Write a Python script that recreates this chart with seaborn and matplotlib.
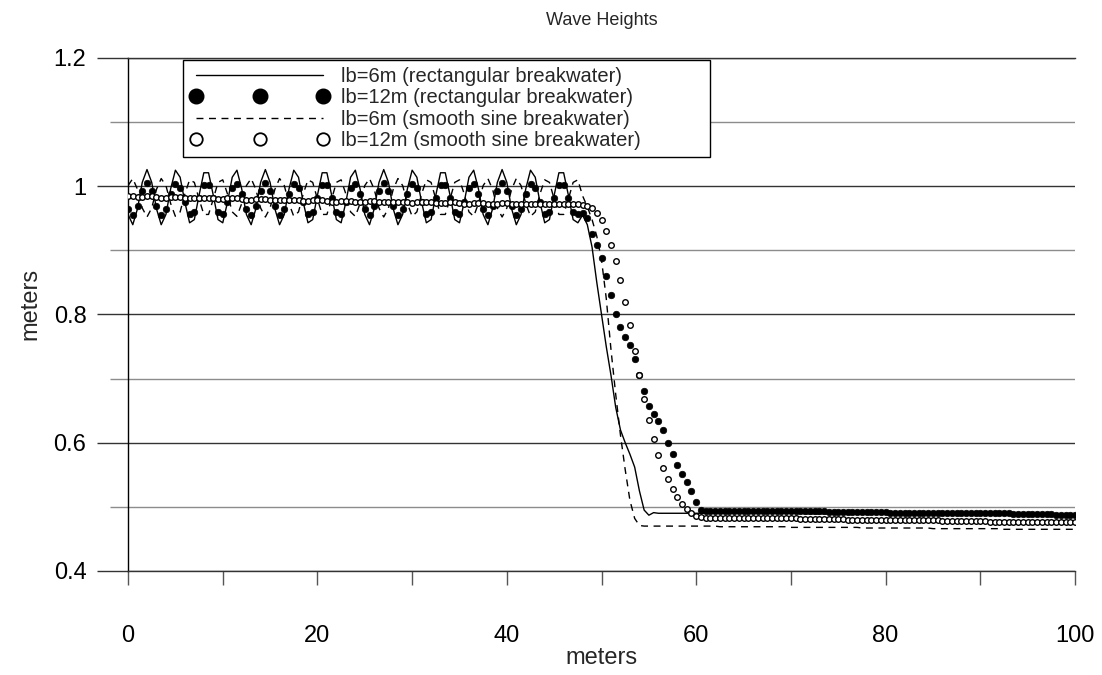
import numpy as np
import pandas as pd
import matplotlib
matplotlib.use('Agg')
import matplotlib.pyplot as plt
import seaborn as sns
from matplotlib.lines import Line2D

# distance along the channel, read every 0.5 m
distance = np.arange(201) * 0.5

# lb=6m (rectangular breakwater)
rect_6m = [
    0.956, 0.940, 0.965, 1.006, 1.026, 1.006, 0.965, 0.940, 0.956, 0.996, 1.025, 1.014, 0.975,
    0.943, 0.948, 0.986, 1.021, 1.021, 0.986, 0.948, 0.943, 0.975, 1.014, 1.025, 0.996,
    0.956, 0.940, 0.965, 1.006, 1.026, 1.006, 0.965, 0.940, 0.956, 0.996, 1.025, 1.014, 0.975,
    0.943, 0.948, 0.986, 1.021, 1.021, 0.986, 0.948, 0.943, 0.975, 1.014, 1.025, 0.996,
    0.956, 0.940, 0.965, 1.006, 1.026, 1.006, 0.965, 0.940, 0.956, 0.996, 1.025, 1.014, 0.975,
    0.943, 0.948, 0.986, 1.021, 1.021, 0.986, 0.948, 0.943, 0.975, 1.014, 1.025, 0.996,
    0.956, 0.940, 0.965, 1.006, 1.026, 1.006, 0.965, 0.940, 0.956, 0.996, 1.025, 1.014, 0.975,
    0.943, 0.948, 0.986, 1.021, 1.021, 0.986, 0.948, 0.943,
    0.955, 0.940, 0.905, 0.850, 0.800, 0.750, 0.705, 0.655, 0.620, 0.600, 0.582, 0.562, 0.525,
    0.495, 0.487, 0.491, 0.490,
    0.490, 0.490, 0.490, 0.490, 0.490, 0.490, 0.490, 0.490, 0.490, 0.490,
    0.490, 0.490, 0.490, 0.490, 0.490, 0.490, 0.490, 0.490, 0.490, 0.490,
    0.490, 0.490, 0.490, 0.490, 0.490, 0.490, 0.490, 0.490, 0.490, 0.490,
    0.489, 0.489, 0.489, 0.489, 0.489, 0.489, 0.489, 0.489, 0.489, 0.489,
    0.489, 0.489, 0.489, 0.489, 0.489, 0.489, 0.489, 0.489, 0.489, 0.489,
    0.489, 0.489, 0.489, 0.489, 0.489, 0.489, 0.489, 0.489, 0.489, 0.489,
    0.488, 0.488, 0.488, 0.488, 0.488, 0.488, 0.488, 0.488, 0.488, 0.488,
    0.488, 0.488, 0.488, 0.488, 0.488, 0.488, 0.488, 0.488, 0.488, 0.488,
    0.488, 0.488, 0.488, 0.488, 0.488, 0.488, 0.488, 0.488,
]

# lb=12m (rectangular breakwater)
rect_12m = [
    0.964, 0.955, 0.969, 0.993, 1.005, 0.993, 0.969, 0.955, 0.964, 0.988, 1.004, 0.998, 0.975,
    0.957, 0.960, 0.982, 1.002, 1.002, 0.982, 0.960, 0.957, 0.975, 0.998, 1.004, 0.988,
    0.964, 0.955, 0.969, 0.993, 1.005, 0.993, 0.969, 0.955, 0.964, 0.988, 1.004, 0.998, 0.975,
    0.957, 0.960, 0.982, 1.002, 1.002, 0.982, 0.960, 0.957, 0.975, 0.998, 1.004, 0.988,
    0.964, 0.955, 0.969, 0.993, 1.005, 0.993, 0.969, 0.955, 0.964, 0.988, 1.004, 0.998, 0.975,
    0.957, 0.960, 0.982, 1.002, 1.002, 0.982, 0.960, 0.957, 0.975, 0.998, 1.004, 0.988,
    0.964, 0.955, 0.969, 0.993, 1.005, 0.993, 0.969, 0.955, 0.964, 0.988, 1.004, 0.998, 0.975,
    0.957, 0.960, 0.982, 1.002, 1.002, 0.982, 0.960, 0.957,
    0.958, 0.951, 0.925, 0.908, 0.888, 0.860, 0.830, 0.800, 0.780, 0.765, 0.752, 0.731, 0.705,
    0.680, 0.657, 0.645, 0.634, 0.620, 0.600, 0.582, 0.565, 0.551, 0.539, 0.524, 0.507, 0.495,
    0.494, 0.494, 0.494, 0.494, 0.494, 0.494, 0.494, 0.494, 0.494, 0.494, 0.494, 0.494, 0.494,
    0.493, 0.493, 0.493, 0.493, 0.493, 0.493, 0.493, 0.493, 0.493, 0.493, 0.493, 0.493, 0.493,
    0.492, 0.492, 0.492, 0.492, 0.492, 0.492, 0.492, 0.492, 0.492, 0.492, 0.492, 0.492, 0.492,
    0.491, 0.491, 0.491, 0.491, 0.491, 0.491, 0.491, 0.491, 0.491, 0.491, 0.491, 0.491, 0.491,
    0.490, 0.490, 0.490, 0.490, 0.490, 0.490, 0.490, 0.490, 0.490, 0.490, 0.490, 0.490, 0.490,
    0.489, 0.489, 0.489, 0.489, 0.489, 0.489, 0.489, 0.489, 0.489,
    0.488, 0.488, 0.488, 0.488, 0.488,
]

# lb=6m (smooth sine breakwater)
sine_6m = [
    1.001, 1.012, 0.995, 0.966, 0.952, 0.966, 0.995, 1.012, 1.001, 0.973, 0.953, 0.960, 0.988,
    1.010, 1.006, 0.980, 0.956, 0.956, 0.980, 1.006, 1.010, 0.988, 0.960, 0.953, 0.973,
    1.001, 1.012, 0.995, 0.966, 0.952, 0.966, 0.995, 1.012, 1.001, 0.973, 0.953, 0.960, 0.988,
    1.010, 1.006, 0.980, 0.956, 0.956, 0.980, 1.006, 1.010, 0.988, 0.960, 0.953, 0.973,
    1.001, 1.012, 0.995, 0.966, 0.952, 0.966, 0.995, 1.012, 1.001, 0.973, 0.953, 0.960, 0.988,
    1.010, 1.006, 0.980, 0.956, 0.956, 0.980, 1.006, 1.010, 0.988, 0.960, 0.953, 0.973,
    1.001, 1.012, 0.995, 0.966, 0.952, 0.966, 0.995, 1.012, 1.001, 0.973, 0.953, 0.960, 0.988,
    1.010, 1.006, 0.980, 0.956, 0.956, 0.980, 1.006, 1.010,
    0.985, 0.968, 0.948, 0.922, 0.885, 0.825, 0.745, 0.675, 0.612, 0.558, 0.510, 0.482, 0.471,
    0.470,
    0.470, 0.470, 0.470, 0.470, 0.470, 0.470, 0.470, 0.470, 0.470, 0.470, 0.470, 0.470, 0.470,
    0.470, 0.470,
    0.469, 0.469, 0.469, 0.469, 0.469, 0.469, 0.469, 0.469, 0.469, 0.469, 0.469, 0.469, 0.469,
    0.469, 0.469,
    0.468, 0.468, 0.468, 0.468, 0.468, 0.468, 0.468, 0.468, 0.468, 0.468, 0.468, 0.468, 0.468,
    0.468, 0.468,
    0.467, 0.467, 0.467, 0.467, 0.467, 0.467, 0.467, 0.467, 0.467, 0.467, 0.467, 0.467, 0.467,
    0.467, 0.467,
    0.466, 0.466, 0.466, 0.466, 0.466, 0.466, 0.466, 0.466, 0.466, 0.466, 0.466, 0.466, 0.466,
    0.466, 0.466,
    0.465, 0.465, 0.465, 0.465, 0.465, 0.465, 0.465, 0.465, 0.465, 0.465, 0.465, 0.465, 0.465,
    0.465, 0.465, 0.465,
]

# lb=12m (smooth sine breakwater)
sine_12m = [
    0.984, 0.984, 0.983, 0.983, 0.984, 0.984, 0.983, 0.982, 0.982, 0.983, 0.983, 0.983, 0.982,
    0.981, 0.981, 0.982, 0.982, 0.982, 0.981, 0.980, 0.980, 0.981, 0.981, 0.981, 0.980,
    0.979, 0.979, 0.980, 0.980, 0.980, 0.979, 0.978, 0.978, 0.979, 0.979, 0.979, 0.978, 0.977,
    0.977, 0.978, 0.978, 0.978, 0.977, 0.976, 0.976, 0.977, 0.977, 0.977, 0.976, 0.976,
    0.976, 0.977, 0.977, 0.976, 0.975, 0.975, 0.976, 0.976, 0.976, 0.975, 0.974, 0.975, 0.975,
    0.975, 0.975, 0.974, 0.974, 0.974, 0.975, 0.975, 0.974, 0.973, 0.973, 0.974, 0.974,
    0.974, 0.973, 0.973, 0.973, 0.974, 0.974, 0.973, 0.972, 0.973, 0.973, 0.973, 0.973, 0.972,
    0.972, 0.973, 0.973, 0.973, 0.973, 0.973, 0.972, 0.972,
    0.971, 0.969, 0.966, 0.959, 0.947, 0.930, 0.909, 0.884, 0.853, 0.819, 0.783, 0.743, 0.705,
    0.668, 0.635, 0.606, 0.581, 0.560, 0.543, 0.528, 0.515, 0.504, 0.496, 0.490, 0.486, 0.484,
    0.483, 0.483, 0.483, 0.483, 0.483, 0.483, 0.483, 0.483, 0.483, 0.483,
    0.482, 0.482, 0.482, 0.482, 0.482, 0.482, 0.482, 0.482, 0.482, 0.482,
    0.481, 0.481, 0.481, 0.481, 0.481, 0.481, 0.481, 0.481, 0.481, 0.481,
    0.480, 0.480, 0.480, 0.480, 0.480, 0.480, 0.480, 0.480, 0.480, 0.480,
    0.479, 0.479, 0.479, 0.479, 0.479, 0.479, 0.479, 0.479, 0.479, 0.479,
    0.478, 0.478, 0.478, 0.478, 0.478, 0.478, 0.478, 0.478, 0.478, 0.478,
    0.477, 0.477, 0.477, 0.477, 0.477, 0.477, 0.477, 0.477, 0.477, 0.477,
    0.476, 0.476, 0.476, 0.476, 0.476, 0.476, 0.476, 0.476, 0.476,
]

labels = ['lb=6m (rectangular breakwater)', 'lb=12m (rectangular breakwater)',
          'lb=6m (smooth sine breakwater)', 'lb=12m (smooth sine breakwater)']

x_ticks = [0, 20, 40, 60, 80, 100]
x_tick_labels = ['0', '20', '40', '60', '80', '100']
x_minor = [10, 30, 50, 70, 90]
y_ticks = [0.4, 0.6, 0.8, 1.0, 1.2]
y_tick_labels = ['0.4', '0.6', '0.8', '1', '1.2']
y_minor = [0.5, 0.7, 0.9, 1.1]

df = pd.DataFrame({'distance': distance, 'rect_6m': rect_6m, 'rect_12m': rect_12m,
                   'sine_6m': sine_6m, 'sine_12m': sine_12m})

sns.set_style('white')
plt.rcParams['font.family'] = ['Liberation Sans', 'DejaVu Sans']

fig = plt.figure(figsize=(11.02, 6.75), dpi=100)
ax = fig.add_axes([0.1162, 0.1541, 0.8593, 0.7600])

sns.lineplot(data=df, x='distance', y='rect_6m', ax=ax, color='black', linewidth=1, zorder=2)
sns.scatterplot(data=df, x='distance', y='rect_12m', ax=ax, color='black', s=22,
                edgecolor='black', linewidth=0.5, zorder=3)
sns.lineplot(data=df, x='distance', y='sine_6m', ax=ax, color='black', linewidth=1,
             linestyle=(0, (5, 4)), zorder=2)
sns.scatterplot(data=df, x='distance', y='sine_12m', ax=ax, color='white', s=16,
                edgecolor='black', linewidth=1.0, zorder=4)

ax.set_xlim(0, 100)
ax.set_ylim(0.4, 1.2)
ax.set_xticks(x_ticks)
ax.set_xticklabels(x_tick_labels)
ax.set_xticks(x_minor, minor=True)
ax.set_yticks(y_ticks)
ax.set_yticklabels(y_tick_labels)
ax.set_yticks(y_minor, minor=True)

ax.tick_params(axis='y', which='major', left=True, direction='out', length=22, width=1,
               color='#333333', pad=8, labelsize=17, labelcolor='black')
ax.tick_params(axis='y', which='minor', left=True, direction='out', length=13, width=1,
               color='#8c8c8c')
ax.tick_params(axis='x', which='both', bottom=True, direction='out', length=10, width=1,
               color='#555555')
ax.tick_params(axis='x', which='major', pad=29, labelsize=17, labelcolor='black')

ax.grid(False)
ax.yaxis.grid(True, which='major', color='#333333', linewidth=1)
ax.yaxis.grid(True, which='minor', color='#8c8c8c', linewidth=1)
ax.set_axisbelow(True)

ax.spines['right'].set_visible(False)
ax.spines['left'].set_color('black')
ax.spines['top'].set_color('#333333')
ax.spines['bottom'].set_color('#333333')
for s in ['left', 'top', 'bottom']:
    ax.spines[s].set_linewidth(1)

ax.set_title('Wave Heights', fontsize=13, pad=24)
ax.set_xlabel('meters', fontsize=17, labelpad=0)
ax.set_ylabel('meters', fontsize=17)
ax.yaxis.set_label_coords(-0.091, 0.52)

handles = [
    Line2D([], [], color='black', linewidth=1),
    Line2D([], [], linestyle='none', marker='o', markersize=10.5, markerfacecolor='black',
           markeredgecolor='black'),
    Line2D([], [], color='black', linewidth=1, linestyle=(0, (5, 4))),
    Line2D([], [], linestyle='none', marker='o', markersize=9, markerfacecolor='white',
           markeredgecolor='black', markeredgewidth=1.3),
]
leg = ax.legend(handles, labels, loc='upper left', bbox_to_anchor=(0.0581, 0.5, 0.5565, 0.4961),
                mode='expand', borderaxespad=0, numpoints=3, handlelength=6.9,
                handletextpad=0.6, labelspacing=0.12, borderpad=0.35, fontsize=14.5,
                frameon=True, fancybox=False, edgecolor='black', framealpha=1)
leg.get_frame().set_linewidth(1)
leg.set_zorder(10)

fig.savefig('out.png', dpi=100)
